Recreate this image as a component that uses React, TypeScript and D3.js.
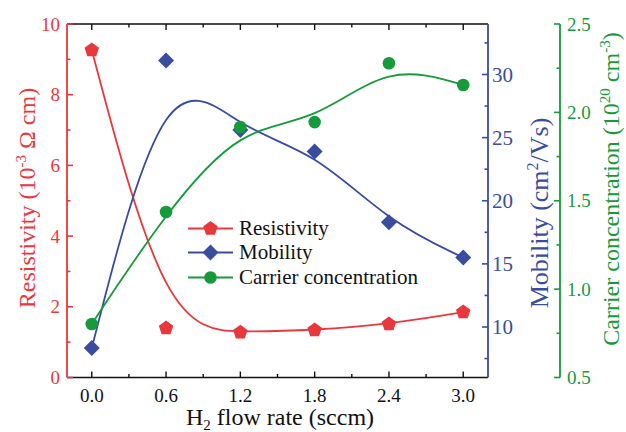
import React from "react";
import * as d3 from "d3";

// H2 flow rate (sccm)
const flowRates = [0.0, 0.6, 1.2, 1.8, 2.4, 3.0];
// Resistivity (10^-3 Ω cm)
const resistivity = [9.26, 1.4, 1.28, 1.34, 1.51, 1.85];
// Mobility (cm^2/Vs)
const mobility = [8.34, 31.1, 25.6, 23.9, 18.3, 15.5];
// Carrier concentration (10^20 cm^-3)
const carrier = [0.803, 1.436, 1.917, 1.945, 2.278, 2.155];

const xTicks = [0.0, 0.6, 1.2, 1.8, 2.4, 3.0];
const xMinor = [0.3, 0.9, 1.5, 2.1, 2.7];
const resTicks = [0, 2, 4, 6, 8, 10];
const resMinor = [1, 3, 5, 7, 9];
const mobTicks = [10, 15, 20, 25, 30];
const mobMinor = [7.5, 12.5, 17.5, 22.5, 27.5, 32.5];
const carTicks = [0.5, 1.0, 1.5, 2.0, 2.5];
const carMinor = [0.75, 1.25, 1.75, 2.25];

const legendLabels = ["Resistivity", "Mobility", "Carrier concentration"];

const RED = "#e8383d";
const BLUE = "#3a4c9e";
const GREEN = "#179a3b";
const FONT = "'Liberation Serif', 'Times New Roman', serif";

const W = 626;
const H = 432;
const left = 67;
const right = 488;
const top = 24;
const bottom = 377.5;
const greenAxisX = 560;

const x = d3.scaleLinear().domain([-0.2, 3.2]).range([left, right]);
const yRes = d3.scaleLinear().domain([0, 10]).range([bottom, top]);
const yMob = d3.scaleLinear().domain([6, 34]).range([bottom, top]);
const yCar = d3.scaleLinear().domain([0.5, 2.5]).range([bottom, top]);

const pentagon: d3.SymbolType = {
  draw(ctx, size) {
    const r = Math.sqrt(size / 2.378);
    for (let i = 0; i < 5; i++) {
      const a = -Math.PI / 2 + (i * 2 * Math.PI) / 5;
      const px = r * Math.cos(a);
      const py = r * Math.sin(a);
      if (i === 0) ctx.moveTo(px, py);
      else ctx.lineTo(px, py);
    }
    ctx.closePath();
  },
};

const squareDiamond: d3.SymbolType = {
  draw(ctx, size) {
    const r = Math.sqrt(size / 2);
    ctx.moveTo(0, -r);
    ctx.lineTo(r, 0);
    ctx.lineTo(0, r);
    ctx.lineTo(-r, 0);
    ctx.closePath();
  },
};

const pentPath = d3.symbol(pentagon, 2.378 * 7.6 * 7.6)() as string;
const diamondPath = d3.symbol(squareDiamond, 2 * 8 * 8)() as string;

const curve = (ys: number[], yScale: d3.ScaleLinear<number, number>) =>
  d3
    .line<number>()
    .x((_, i) => x(flowRates[i]))
    .y((v) => yScale(v))
    .curve(d3.curveBasis)(ys) as string;

export default function App() {
  const series = [
    { vals: resistivity, scale: yRes, color: RED, kind: "pent" },
    { vals: mobility, scale: yMob, color: BLUE, kind: "diamond" },
    { vals: carrier, scale: yCar, color: GREEN, kind: "circle" },
  ];

  const marker = (kind: string, color: string, cx: number, cy: number, key?: any) => {
    if (kind === "circle") return <circle key={key} cx={cx} cy={cy} r={6.3} fill={color} />;
    const d = kind === "pent" ? pentPath : diamondPath;
    return <path key={key} d={d} transform={`translate(${cx},${cy})`} fill={color} />;
  };

  const legendY = [228.5, 252.5, 277.5];

  return (
    <svg
      width={W}
      height={H}
      style={{ position: "absolute", left: 0, top: 0, background: "#fff" }}
      fontFamily={FONT}
    >
      <rect width={W} height={H} fill="#fff" />

      {/* frame: top and bottom axes */}
      <line x1={left} x2={right} y1={top} y2={top} stroke="#111" strokeWidth={1.6} />
      <line x1={left} x2={right} y1={bottom} y2={bottom} stroke="#111" strokeWidth={1.6} />

      {/* x ticks (bottom and top, inward) */}
      {xTicks.map((t) => (
        <g key={`xt${t}`}>
          <line x1={x(t)} x2={x(t)} y1={bottom} y2={bottom - 6} stroke="#111" strokeWidth={1.4} />
          <line x1={x(t)} x2={x(t)} y1={top} y2={top + 6} stroke="#111" strokeWidth={1.4} />
          <text x={x(t)} y={402} textAnchor="middle" fontSize={19} fill="#111">
            {d3.format(".1f")(t)}
          </text>
        </g>
      ))}
      {xMinor.map((t) => (
        <g key={`xm${t}`}>
          <line x1={x(t)} x2={x(t)} y1={bottom} y2={bottom - 3.5} stroke="#111" strokeWidth={1.4} />
          <line x1={x(t)} x2={x(t)} y1={top} y2={top + 3.5} stroke="#111" strokeWidth={1.4} />
        </g>
      ))}
      <text x={280} y={425} textAnchor="middle" fontSize={24} fill="#111">
        H<tspan fontSize={15} dy={5}>2</tspan>
        <tspan dy={-5}> flow rate (sccm)</tspan>
      </text>

      {/* left axis: resistivity */}
      <line x1={left} x2={left} y1={top} y2={bottom} stroke={RED} strokeWidth={1.8} />
      {resTicks.map((t) => (
        <g key={`rt${t}`}>
          <line x1={left} x2={left + 6} y1={yRes(t)} y2={yRes(t)} stroke={RED} strokeWidth={1.6} />
          <text x={left - 7} y={yRes(t) + 6.5} textAnchor="end" fontSize={19} fill={RED}>
            {t}
          </text>
        </g>
      ))}
      {resMinor.map((t) => (
        <line key={`rm${t}`} x1={left} x2={left + 3.5} y1={yRes(t)} y2={yRes(t)} stroke={RED} strokeWidth={1.6} />
      ))}
      <text
        transform={`translate(35,198) rotate(-90)`}
        textAnchor="middle"
        fontSize={24}
        fill={RED}
      >
        Resistivity (10<tspan fontSize={15} dy={-9}>-3</tspan>
        <tspan dy={9}> Ω cm)</tspan>
      </text>

      {/* right axis: mobility */}
      <line x1={right} x2={right} y1={top} y2={bottom} stroke={BLUE} strokeWidth={1.8} />
      {mobTicks.map((t) => (
        <g key={`mt${t}`}>
          <line x1={right} x2={right - 6} y1={yMob(t)} y2={yMob(t)} stroke={BLUE} strokeWidth={1.6} />
          <text x={492} y={yMob(t) + 7} textAnchor="start" fontSize={21} fill={BLUE}>
            {t}
          </text>
        </g>
      ))}
      {mobMinor.map((t) => (
        <line key={`mm${t}`} x1={right} x2={right - 3.5} y1={yMob(t)} y2={yMob(t)} stroke={BLUE} strokeWidth={1.6} />
      ))}
      <text
        transform={`translate(548,213) rotate(-90)`}
        textAnchor="middle"
        fontSize={26}
        fill={BLUE}
      >
        Mobility (cm<tspan fontSize={16} dy={-10}>2</tspan>
        <tspan dy={10}>/Vs)</tspan>
      </text>

      {/* far right axis: carrier concentration */}
      <line x1={greenAxisX} x2={greenAxisX} y1={top} y2={bottom} stroke={GREEN} strokeWidth={1.8} />
      {carTicks.map((t) => (
        <g key={`ct${t}`}>
          <line x1={greenAxisX} x2={greenAxisX - 6} y1={yCar(t)} y2={yCar(t)} stroke={GREEN} strokeWidth={1.6} />
          <text x={567} y={yCar(t) + 6.5} textAnchor="start" fontSize={19} fill={GREEN}>
            {d3.format(".1f")(t)}
          </text>
        </g>
      ))}
      {carMinor.map((t) => (
        <line key={`cm${t}`} x1={greenAxisX} x2={greenAxisX - 3.5} y1={yCar(t)} y2={yCar(t)} stroke={GREEN} strokeWidth={1.6} />
      ))}
      <text
        transform={`translate(619,189) rotate(-90)`}
        textAnchor="middle"
        fontSize={24}
        fill={GREEN}
      >
        Carrier concentration (10<tspan fontSize={15} dy={-9}>20</tspan>
        <tspan dy={9}> cm</tspan>
        <tspan fontSize={15} dy={-9}>-3</tspan>
        <tspan dy={9}>)</tspan>
      </text>

      {/* smoothed curves and data markers */}
      {series.map((s, si) => (
        <path key={`c${si}`} d={curve(s.vals, s.scale)} fill="none" stroke={s.color} strokeWidth={1.8} />
      ))}
      {series.map((s, si) => (
        <g key={`m${si}`}>
          {s.vals.map((v, i) => marker(s.kind, s.color, x(flowRates[i]), s.scale(v), i))}
        </g>
      ))}

      {/* legend */}
      {series.map((s, si) => (
        <g key={`l${si}`}>
          <line x1={188} x2={233} y1={legendY[si]} y2={legendY[si]} stroke={s.color} strokeWidth={1.8} />
          {marker(s.kind, s.color, 210.5, legendY[si])}
          <text x={239} y={legendY[si] + 6.5} fontSize={21} fill="#111">
            {legendLabels[si]}
          </text>
        </g>
      ))}
    </svg>
  );
}
